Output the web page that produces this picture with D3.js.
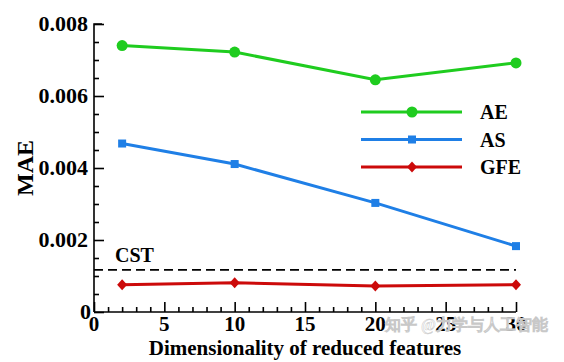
<!DOCTYPE html>
<html>
<head>
<meta charset="utf-8">
<script src="https://cdn.jsdelivr.net/npm/d3@7"></script>
<style>
  body { margin: 0; background: #fff; }
  text { font-family: "Liberation Serif", "Times New Roman", serif; font-weight: bold; }
</style>
</head>
<body>
<div id="chart"></div>
<script>
const dims = [2, 10, 20, 30];
const ae = [0.0074, 0.00722, 0.00645, 0.00692];
const as = [0.00468, 0.00411, 0.00303, 0.00183];
const gfe = [0.00076, 0.00081, 0.00072, 0.00076];
const cst = 0.00117;
const xTicks = [0, 5, 10, 15, 20, 25, 30];
const yTicks = [0, 0.002, 0.004, 0.006, 0.008];

const series = [
  { name: "AE", values: ae, color: "#1fcc1f", marker: "circle" },
  { name: "AS", values: as, color: "#1f7fe6", marker: "square" },
  { name: "GFE", values: gfe, color: "#cc0a0a", marker: "diamond" },
];

const width = 564;
const height = 362;
const margin = { left: 94, right: 48, top: 24, bottom: 50 };

const svg = d3
  .select("#chart")
  .append("svg")
  .attr("width", width)
  .attr("height", height);

const x = d3.scaleLinear().domain([0, 30]).range([margin.left, width - margin.right]);
const y = d3.scaleLinear().domain([0, 0.008]).range([height - margin.bottom, margin.top]);

// axes, ticks pointing inward
const yAxis = svg
  .append("g")
  .attr("transform", `translate(${margin.left},0)`)
  .call(d3.axisLeft(y).tickValues(d3.range(0, 0.00801, 0.0005)).tickSize(-5).tickFormat(""));
yAxis.selectAll(".tick line").filter((d) => yTicks.some((t) => Math.abs(t - d) < 1e-9)).attr("x2", 10);
yAxis.select(".domain").attr("d", `M8,${y(0.008)}H0V${y(0)}`);

const xAxis = svg
  .append("g")
  .attr("transform", `translate(0,${y(0)})`)
  .call(d3.axisBottom(x).tickValues(d3.range(0, 31, 1)).tickSize(-5).tickFormat(""));
xAxis.selectAll(".tick line").filter((d) => d % 5 === 0).attr("y2", -10);
xAxis.select(".domain").attr("d", `M${x(0)},0H${x(30)}`);

svg.selectAll(".domain, .tick line").attr("stroke", "#000").attr("stroke-width", 1.6);

svg
  .selectAll(".ylab")
  .data(yTicks)
  .enter()
  .append("text")
  .attr("x", (d) => (d === 0 ? margin.left - 3 : margin.left - 6))
  .attr("y", (d) => y(d) + 7)
  .attr("text-anchor", "end")
  .attr("font-size", 22)
  .text((d) => (d === 0 ? "0" : d.toFixed(3)));

svg
  .selectAll(".xlab")
  .data(xTicks)
  .enter()
  .append("text")
  .attr("x", (d) => x(d))
  .attr("y", y(0) + 19)
  .attr("text-anchor", "middle")
  .attr("font-size", 21)
  .text((d) => d);

svg
  .append("text")
  .attr("x", (margin.left + width - margin.right) / 2)
  .attr("y", 355)
  .attr("text-anchor", "middle")
  .attr("font-size", 21)
  .text("Dimensionality of reduced features");

svg
  .append("text")
  .attr("transform", `translate(33,${(y(0) + y(0.008)) / 2}) rotate(-90)`)
  .attr("text-anchor", "middle")
  .attr("font-size", 24)
  .text("MAE");

// CST reference line
svg
  .append("line")
  .attr("x1", x(0))
  .attr("x2", x(30))
  .attr("y1", y(cst))
  .attr("y2", y(cst))
  .attr("stroke", "#000")
  .attr("stroke-width", 1.6)
  .attr("stroke-dasharray", "9,5");

svg
  .append("text")
  .attr("x", 115)
  .attr("y", 262)
  .attr("font-size", 20)
  .text("CST");

function drawMarker(g, type, color) {
  if (type === "circle") {
    g.append("circle").attr("r", 5.5).attr("fill", color);
  } else if (type === "square") {
    g.append("rect").attr("x", -4).attr("y", -4).attr("width", 8).attr("height", 8).attr("fill", color);
  } else {
    g.append("path").attr("d", "M0,-5.5L5,0L0,5.5L-5,0Z").attr("fill", color);
  }
}

const line = d3
  .line()
  .x((d) => x(d[0]))
  .y((d) => y(d[1]));

series.forEach((s) => {
  const pts = dims.map((d, i) => [d, s.values[i]]);
  svg
    .append("path")
    .attr("d", line(pts))
    .attr("fill", "none")
    .attr("stroke", s.color)
    .attr("stroke-width", 3);
  pts.forEach((p) => {
    const g = svg.append("g").attr("transform", `translate(${x(p[0])},${y(p[1])})`);
    drawMarker(g, s.marker, s.color);
  });
});

// legend
const legend = svg.append("g").attr("transform", "translate(361,112)");
series.forEach((s, i) => {
  const g = legend.append("g").attr("transform", `translate(0,${i * 27.5})`);
  g.append("line").attr("x1", 0).attr("x2", 101).attr("stroke", s.color).attr("stroke-width", 3);
  drawMarker(g.append("g").attr("transform", "translate(51,0)"), s.marker, s.color);
  g.append("text").attr("x", 119).attr("y", 7).attr("font-size", 20).text(s.name);
});

// watermark
svg
  .append("text")
  .attr("x", 385)
  .attr("y", 330)
  .attr("font-family", "Noto Sans CJK SC")
  .attr("font-weight", "normal")
  .attr("font-size", 16)
  .attr("fill", "#ffffff")
  .attr("fill-opacity", 0.6)
  .attr("stroke", "#c8c8c8")
  .attr("stroke-width", 0.5)
  .text("知乎 @力学与人工智能");
</script>
</body>
</html>
